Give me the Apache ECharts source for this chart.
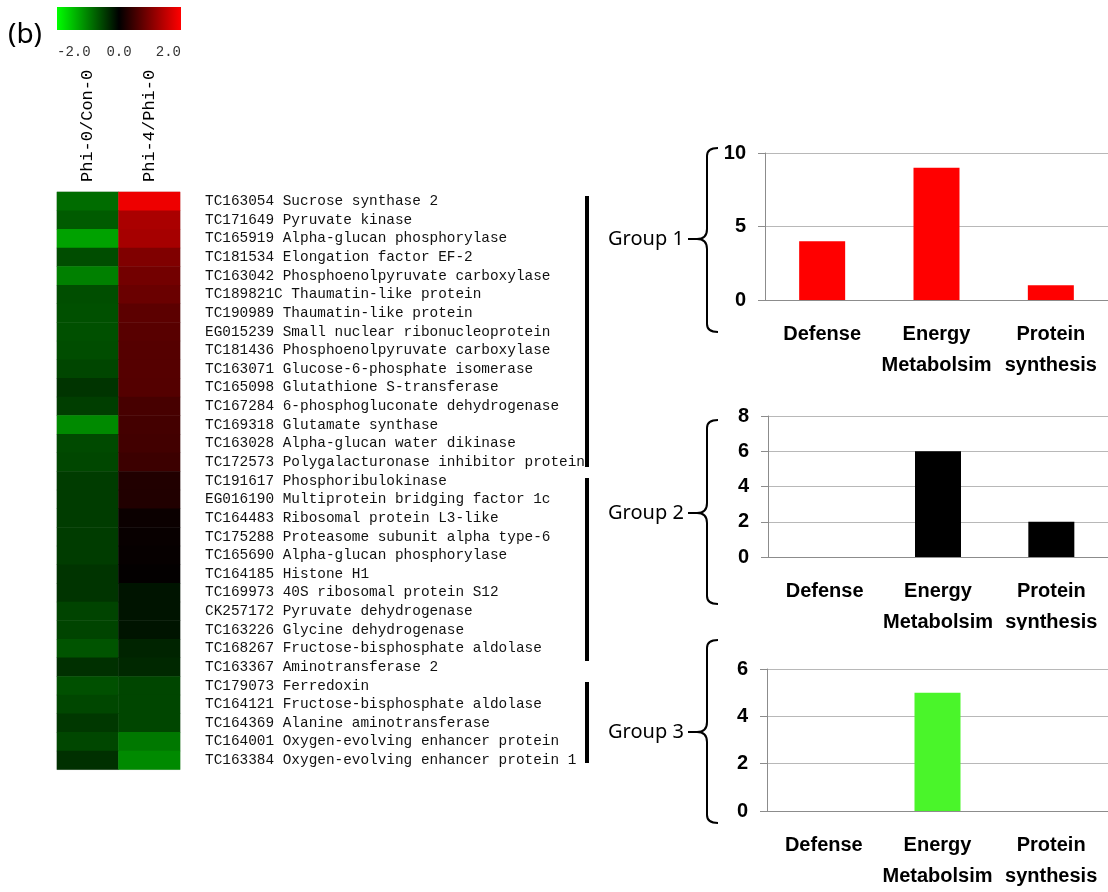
<!DOCTYPE html>
<html>
<head>
<meta charset="utf-8">
<script src="https://cdn.jsdelivr.net/npm/echarts@6/dist/echarts.min.js"></script>
<style>
  html, body { margin: 0; padding: 0; background: #fff; }
  #chart { width: 1108px; height: 892px; }
</style>
</head>
<body>
<div id="chart"></div>
<script>
// heatmap: log2 ratios for two comparisons
const conditions = ['Phi-0/Con-0', 'Phi-4/Phi-0']
const geneIds = [
  'TC163054', 'TC171649', 'TC165919', 'TC181534', 'TC163042', 'TC189821C', 'TC190989', 'EG015239',
  'TC181436', 'TC163071', 'TC165098', 'TC167284', 'TC169318', 'TC163028', 'TC172573', 'TC191617',
  'EG016190', 'TC164483', 'TC175288', 'TC165690', 'TC164185', 'TC169973', 'CK257172', 'TC163226',
  'TC168267', 'TC163367', 'TC179073', 'TC164121', 'TC164369', 'TC164001', 'TC163384'
]
const geneNames = [
  'Sucrose synthase 2', 'Pyruvate kinase', 'Alpha-glucan phosphorylase', 'Elongation factor EF-2',
  'Phosphoenolpyruvate carboxylase', 'Thaumatin-like protein', 'Thaumatin-like protein',
  'Small nuclear ribonucleoprotein', 'Phosphoenolpyruvate carboxylase', 'Glucose-6-phosphate isomerase',
  'Glutathione S-transferase', '6-phosphogluconate dehydrogenase', 'Glutamate synthase',
  'Alpha-glucan water dikinase', 'Polygalacturonase inhibitor protein', 'Phosphoribulokinase',
  'Multiprotein bridging factor 1c', 'Ribosomal protein L3-like', 'Proteasome subunit alpha type-6',
  'Alpha-glucan phosphorylase', 'Histone H1', '40S ribosomal protein S12', 'Pyruvate dehydrogenase',
  'Glycine dehydrogenase', 'Fructose-bisphosphate aldolase', 'Aminotransferase 2', 'Ferredoxin',
  'Fructose-bisphosphate aldolase', 'Alanine aminotransferase', 'Oxygen-evolving enhancer protein',
  'Oxygen-evolving enhancer protein 1'
]
const phi0Con0 = [
  -0.85, -0.71, -1.27, -0.6, -1.0, -0.61, -0.63, -0.63, -0.6, -0.55, -0.41, -0.49, -1.08, -0.58, -0.56,
  -0.47, -0.47, -0.47, -0.47, -0.47, -0.41, -0.41, -0.53, -0.53, -0.66, -0.38, -0.63, -0.56, -0.44, -0.56, -0.38
]
const phi4Phi0 = [
  1.87, 1.33, 1.3, 1.0, 0.9, 0.83, 0.72, 0.69, 0.67, 0.67, 0.66, 0.56, 0.53, 0.52, 0.47,
  0.26, 0.26, 0.09, 0.06, 0.05, 0.02, -0.16, -0.16, -0.16, -0.28, -0.31, -0.55, -0.55, -0.55, -0.94, -1.08
]
const legendTicks = ['-2.0', '0.0', '2.0']

// functional categories per group
const categories = ['Defense', 'Energy\nMetabolsim', 'Protein\nsynthesis']
const groupNames = ['Group 1', 'Group 2', 'Group 3']
const group1Counts = [4, 9, 1]
const group2Counts = [0, 6, 2]
const group3Counts = [0, 5, 0]

const monoFont = 'Liberation Mono'
const sansFont = 'Liberation Sans'

const geneLabels = geneIds.map((id, i) => id + ' ' + geneNames[i])
const heatData = []
geneLabels.forEach((g, i) => {
  heatData.push([0, i, phi0Con0[i]])
  heatData.push([1, i, phi4Phi0[i]])
})

const chart = echarts.init(document.getElementById('chart'))

const barGrids = [
  { left: 765, top: 153, width: 349, height: 147 },
  { left: 768, top: 416, width: 344, height: 141 },
  { left: 767, top: 669, width: 344, height: 146 }
]
const barMax = [10, 8, 6]
const barStep = [5, 2, 2]
const barColors = ['#ff0000', '#000000', '#4af52a']
const barCounts = [group1Counts, group2Counts, group3Counts]

const xAxes = [{
  gridIndex: 0,
  type: 'category',
  data: conditions,
  position: 'top',
  axisLine: { show: false },
  axisTick: { show: false },
  axisLabel: {
    interval: 0,
    rotate: -90,
    margin: 10,
    fontFamily: monoFont,
    fontSize: 17,
    color: '#000'
  }
}]
const yAxes = [{
  gridIndex: 0,
  type: 'category',
  data: geneLabels,
  inverse: true,
  position: 'right',
  axisLine: { show: false },
  axisTick: { show: false },
  axisLabel: {
    interval: 0,
    margin: 25,
    fontFamily: monoFont,
    fontSize: 14.4,
    color: '#111'
  }
}]
const series = [{
  type: 'heatmap',
  xAxisIndex: 0,
  yAxisIndex: 0,
  data: heatData
}]

barGrids.forEach((g, k) => {
  xAxes.push({
    gridIndex: k + 1,
    type: 'category',
    data: categories,
    axisLine: { lineStyle: { color: '#8c8c8c' } },
    axisTick: { length: 8, lineStyle: { color: '#8c8c8c' } },
    axisLabel: {
      interval: 0,
      margin: 19,
      lineHeight: 31,
      fontFamily: sansFont,
      fontWeight: 'bold',
      fontSize: 20,
      color: '#000'
    }
  })
  yAxes.push({
    gridIndex: k + 1,
    type: 'value',
    min: 0,
    max: barMax[k],
    interval: barStep[k],
    axisLine: { show: true, lineStyle: { color: '#8c8c8c' } },
    axisTick: { show: true, length: 7, lineStyle: { color: '#8c8c8c' } },
    splitLine: { lineStyle: { color: '#b8b8b8' } },
    axisLabel: {
      margin: 19,
      fontFamily: sansFont,
      fontWeight: 'bold',
      fontSize: 20,
      color: '#000'
    }
  })
  series.push({
    type: 'bar',
    xAxisIndex: k + 1,
    yAxisIndex: k + 1,
    data: barCounts[k],
    barWidth: 46,
    itemStyle: { color: barColors[k] }
  })
})

// braces linking groups to their bar charts
const braces = [
  { y: 239, top: 148, bottom: 332 },
  { y: 513, top: 420, bottom: 604 },
  { y: 732, top: 640, bottom: 823 }
]
const braceStyle = { stroke: '#000', lineWidth: 2, fill: null }
const braceEls = []
braces.forEach((b, k) => {
  braceEls.push({
    type: 'text',
    x: 608,
    y: b.y,
    style: { text: groupNames[k], fontFamily: 'Noto Sans', fontSize: 20, fill: '#000', verticalAlign: 'middle' }
  })
  braceEls.push({ type: 'line', shape: { x1: 688, y1: b.y, x2: 697, y2: b.y }, style: braceStyle })
  braceEls.push({ type: 'bezierCurve', shape: { x1: 697, y1: b.y, cpx1: 707, cpy1: b.y, x2: 707, y2: b.y - 10 }, style: braceStyle })
  braceEls.push({ type: 'line', shape: { x1: 707, y1: b.y - 10, x2: 707, y2: b.top + 8 }, style: braceStyle })
  braceEls.push({ type: 'bezierCurve', shape: { x1: 707, y1: b.top + 8, cpx1: 707, cpy1: b.top, x2: 718, y2: b.top }, style: braceStyle })
  braceEls.push({ type: 'bezierCurve', shape: { x1: 697, y1: b.y, cpx1: 707, cpy1: b.y, x2: 707, y2: b.y + 10 }, style: braceStyle })
  braceEls.push({ type: 'line', shape: { x1: 707, y1: b.y + 10, x2: 707, y2: b.bottom - 8 }, style: braceStyle })
  braceEls.push({ type: 'bezierCurve', shape: { x1: 707, y1: b.bottom - 8, cpx1: 707, cpy1: b.bottom, x2: 718, y2: b.bottom }, style: braceStyle })
})

const option = {
  animation: false,
  backgroundColor: '#fff',
  grid: [
    { left: 57, top: 192, width: 123, height: 577.6, show: true, borderColor: '#d0d0d0', borderWidth: 1 },
    ...barGrids
  ],
  visualMap: {
    show: false,
    min: -2,
    max: 2,
    seriesIndex: 0,
    inRange: { color: ['#00ff00', '#000000', '#ff0000'] }
  },
  xAxis: xAxes,
  yAxis: yAxes,
  series: series,
  graphic: [
    {
      type: 'text', x: 8, y: 35,
      style: { text: '(b)', fontFamily: 'Noto Sans', fontSize: 28, fill: '#000', verticalAlign: 'middle' }
    },
    {
      type: 'rect',
      shape: { x: 57, y: 7, width: 124, height: 23 },
      style: {
        fill: {
          type: 'linear', x: 0, y: 0, x2: 1, y2: 0,
          colorStops: [
            { offset: 0, color: '#00ff00' },
            { offset: 0.5, color: '#000000' },
            { offset: 1, color: '#ff0000' }
          ]
        }
      }
    },
    ...legendTicks.map((t, i) => ({
      type: 'text',
      x: [57, 119, 181][i],
      y: 52,
      style: {
        text: t, fontFamily: monoFont, fontSize: 14, fill: '#333',
        align: ['left', 'center', 'right'][i], verticalAlign: 'middle'
      }
    })),
    // group bars beside the gene list
    { type: 'rect', shape: { x: 585, y: 196, width: 4, height: 271 }, style: { fill: '#000' } },
    { type: 'rect', shape: { x: 585, y: 478, width: 4, height: 183 }, style: { fill: '#000' } },
    { type: 'rect', shape: { x: 585, y: 682, width: 4, height: 81 }, style: { fill: '#000' } },
    ...braceEls,
    // lower edge of the middle panel is cut off in the original
    { type: 'rect', z: 100, shape: { x: 860, y: 630, width: 248, height: 9 }, style: { fill: '#fff' } }
  ]
}

chart.setOption(option)
window.addEventListener('resize', () => chart.resize())
</script>
</body>
</html>
